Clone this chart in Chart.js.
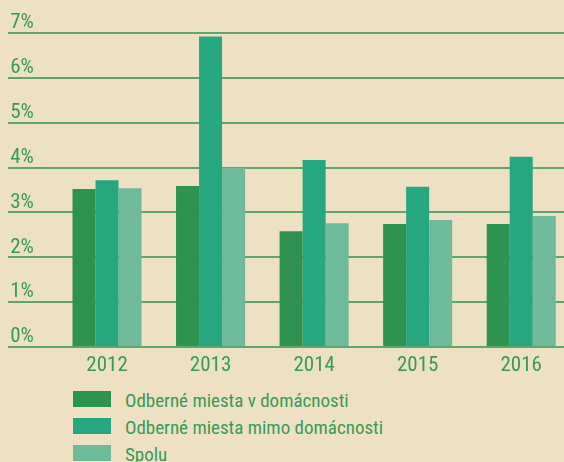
<!DOCTYPE html>
<html>
<head>
<meta charset="utf-8">
<script src="https://cdn.jsdelivr.net/npm/chart.js@4/dist/chart.umd.min.js"></script>
<style>
  html, body { margin: 0; padding: 0; }
  body { width: 564px; height: 462px; overflow: hidden; background: #eee1c3; position: relative;
         font-family: "Roboto Condensed", "Liberation Sans Narrow", "Arial Narrow", "DejaVu Sans Condensed", sans-serif; }
  #wrap { position: absolute; left: 0; top: 0; width: 581px; height: 385px; }
  #legend { position: absolute; left: 73px; top: 389px; }
  .row { position: relative; height: 27px; }
  .box { position: absolute; left: 0; top: 2px; width: 38px; height: 16px; }
  .txt { position: absolute; left: 52px; top: 2px; font-size: 19px; line-height: 19px; color: #389a58; white-space: nowrap; }
</style>
</head>
<body>
<div id="wrap"><canvas id="c"></canvas></div>
<div id="legend"></div>
<script>
const categories = ["2012", "2013", "2014", "2015", "2016"];
const seriesNames = ["Odberné miesta v domácnosti", "Odberné miesta mimo domácnosti", "Spolu"];
const domacnosti = [3.52, 3.59, 2.58, 2.74, 2.74];
const mimoDomacnosti = [3.72, 6.92, 4.17, 3.57, 4.24];
const spolu = [3.54, 3.99, 2.76, 2.83, 2.92];
const yTicks = [0, 1, 2, 3, 4, 5, 6, 7];
const colors = ["#2e9250", "#27a77f", "#70ba9c"];

const textColor = "#389a58";
const gridColor = "#5ea56e";
const fontFamily = '"Roboto Condensed", "Liberation Sans Narrow", "Arial Narrow", "DejaVu Sans Condensed", sans-serif';

const chart = new Chart(document.getElementById("c"), {
  type: "bar",
  data: {
    labels: categories,
    datasets: [
      { label: seriesNames[0], data: domacnosti, backgroundColor: colors[0] },
      { label: seriesNames[1], data: mimoDomacnosti, backgroundColor: colors[1] },
      { label: seriesNames[2], data: spolu, backgroundColor: colors[2] }
    ]
  },
  options: {
    responsive: true,
    maintainAspectRatio: false,
    animation: false,
    layout: { padding: { left: 8, top: 33, right: 8, bottom: 0 } },
    datasets: { bar: { categoryPercentage: 0.667, barPercentage: 1.0 } },
    plugins: { legend: { display: false }, tooltip: { enabled: false } },
    scales: {
      x: {
        type: "category",
        grid: { display: false, drawTicks: false },
        border: { display: false },
        ticks: { color: textColor, font: { family: fontFamily, size: 21 }, padding: 6 },
        afterFit: (s) => { s.height = 38; }
      },
      y: {
        min: 0,
        max: 7,
        afterBuildTicks: (s) => { s.ticks = yTicks.map(v => ({ value: v })); },
        grid: { color: gridColor, lineWidth: 2, drawTicks: true, tickLength: 47.25, tickColor: gridColor, tickWidth: 2 },
        border: { display: false },
        ticks: {
          mirror: true,
          padding: -45,
          labelOffset: -10,
          color: textColor,
          font: { family: fontFamily, size: 21 },
          callback: (v) => v + "%"
        },
        afterFit: (s) => { s.width = 47.25; }
      }
    }
  }
});

const legend = document.getElementById("legend");
chart.data.datasets.forEach((ds) => {
  const row = document.createElement("div");
  row.className = "row";
  const box = document.createElement("div");
  box.className = "box";
  box.style.background = ds.backgroundColor;
  const txt = document.createElement("div");
  txt.className = "txt";
  txt.textContent = ds.label;
  row.appendChild(box);
  row.appendChild(txt);
  legend.appendChild(row);
});
</script>
</body>
</html>
